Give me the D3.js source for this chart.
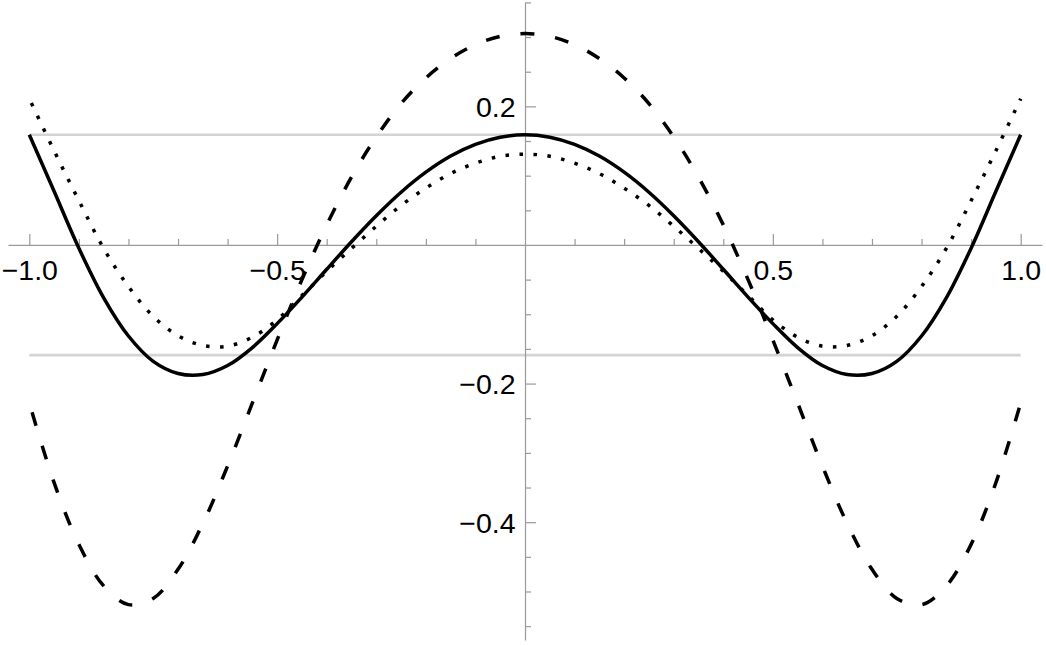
<!DOCTYPE html>
<html>
<head>
<meta charset="utf-8">
<script src="https://cdn.jsdelivr.net/npm/d3@7"></script>
<style>
  html, body { margin: 0; padding: 0; background: #fff; }
  svg { display: block; }
</style>
</head>
<body>
<svg id="chart" width="1046" height="645"></svg>
<script>
// ---- data ----
const xValues = [-1.00,-0.95,-0.90,-0.85,-0.80,-0.75,-0.70,-0.65,-0.60,-0.55,-0.50,-0.45,-0.40,-0.35,-0.30,-0.25,-0.20,-0.15,-0.10,-0.05,
                  0.00, 0.05, 0.10, 0.15, 0.20, 0.25, 0.30, 0.35, 0.40, 0.45, 0.50, 0.55, 0.60, 0.65, 0.70, 0.75, 0.80, 0.85, 0.90, 0.95, 1.00];

const solidValues  = [0.159,0.0774,-0.0047,-0.0763,-0.1314,-0.168,-0.1855,-0.187,-0.174,-0.148,-0.1135,-0.0752,-0.0351,0.0047,0.0422,0.0761,0.1050,0.1283,0.1452,0.1555,
                      0.159,
                      0.1555,0.1452,0.1283,0.1050,0.0761,0.0422,0.0047,-0.0351,-0.0752,-0.1135,-0.148,-0.174,-0.187,-0.1855,-0.168,-0.1314,-0.0763,-0.0047,0.0774,0.159];

const dashedValues = [-0.228,-0.343,-0.432,-0.492,-0.519,-0.510,-0.468,-0.402,-0.319,-0.228,-0.137,-0.050,0.029,0.098,0.156,0.204,0.241,0.269,0.289,0.301,
                      0.305,
                      0.301,0.289,0.269,0.241,0.204,0.156,0.098,0.029,-0.050,-0.137,-0.228,-0.319,-0.402,-0.468,-0.510,-0.519,-0.492,-0.432,-0.343,-0.228];

const dottedValues = [0.211,0.136,0.064,-0.005,-0.060,-0.103,-0.131,-0.145,-0.146,-0.133,-0.108,-0.073,-0.038,-0.005,0.027,0.057,0.082,0.103,0.118,0.128,
                      0.131,
                      0.128,0.118,0.103,0.082,0.057,0.027,-0.005,-0.038,-0.073,-0.108,-0.133,-0.146,-0.145,-0.131,-0.103,-0.060,-0.005,0.064,0.136,0.211];

const boundValues = [0.159, -0.159];

const xMajorTicks = [-1.0, -0.5, 0.5, 1.0];
const xTickLabels = ["\u22121.0", "\u22120.5", "0.5", "1.0"];
const yMajorTicks = [-0.4, -0.2, 0.2];
const yTickLabels = ["\u22120.4", "\u22120.2", "0.2"];

// ---- layout ----
const svg = d3.select("#chart");
const x = d3.scaleLinear().domain([-1.043, 1.043]).range([8, 1042]);
const y = d3.scaleLinear().domain([-0.57, 0.35]).range([640, 2.4]);

const axisColor = "#9a9a9a";
const fontSize = 28.5;

// reference bands
svg.append("g").selectAll("line").data(boundValues).join("line")
  .attr("x1", x(-1)).attr("x2", x(1))
  .attr("y1", d => y(d)).attr("y2", d => y(d))
  .attr("stroke", "#d4d4d4").attr("stroke-width", 2.6);

// minor ticks
const xMinor = d3.range(-10, 11).map(i => i / 10)
  .filter(v => Math.abs(v) > 1e-9 && !xMajorTicks.some(m => Math.abs(m - v) < 1e-9));
const yMinor = d3.range(-11, 8).map(i => i / 20)
  .filter(v => Math.abs(v) > 1e-9 && !yMajorTicks.some(m => Math.abs(m - v) < 1e-9));

function styleAxis(g) {
  g.selectAll("path.domain").attr("stroke", axisColor).attr("stroke-width", 1.2);
  g.selectAll(".tick line").attr("stroke", axisColor).attr("stroke-width", 1.2);
  g.selectAll(".tick text").attr("fill", "#000").attr("font-size", fontSize)
    .attr("font-family", "'Liberation Sans', Arial, sans-serif");
}

// x axis
const gx = svg.append("g").attr("transform", `translate(0,${y(0)})`);
gx.append("g").call(d3.axisBottom(x).tickValues(xMinor).tickSizeInner(-6).tickSizeOuter(0).tickFormat(""))
  .call(g => g.select(".domain").remove()).call(styleAxis);
gx.append("g").call(d3.axisBottom(x).tickValues(xMajorTicks).tickSizeInner(-11).tickSizeOuter(0).tickPadding(15)
    .tickFormat((d, i) => xTickLabels[i]))
  .call(styleAxis);

// y axis
const gy = svg.append("g").attr("transform", `translate(${x(0)},0)`);
gy.append("g").call(d3.axisLeft(y).tickValues(yMinor).tickSizeInner(-6).tickSizeOuter(0).tickFormat(""))
  .call(g => g.select(".domain").remove()).call(styleAxis);
gy.append("g").call(d3.axisLeft(y).tickValues(yMajorTicks).tickSizeInner(-11).tickSizeOuter(0).tickPadding(9.5)
    .tickFormat((d, i) => yTickLabels[i]))
  .call(styleAxis);
gy.selectAll(".tick text").attr("dy", "0.36em");

// curves
const line = d3.line().x((d, i) => x(xValues[i])).y(d => y(d)).curve(d3.curveCatmullRom.alpha(0.5));

// dash pattern: on, off, and where along one period the centre (x = 0) should fall
const series = [
  { values: dashedValues, on: 14,  off: 21,   centre: 24.5 },
  { values: dottedValues, on: 3.5, off: 10.5, centre: 1.75 },
  { values: solidValues,  on: null }
];
svg.append("g").selectAll("path").data(series).join("path")
  .attr("d", d => line(d.values))
  .attr("fill", "none")
  .attr("stroke", "#000")
  .attr("stroke-width", 3.5)
  .attr("stroke-linecap", "butt")
  .each(function (d) {
    if (d.on == null) return;
    const period = d.on + d.off;
    const half = this.getTotalLength() / 2;
    const offset = ((d.centre - half) % period + period) % period;
    d3.select(this).attr("stroke-dasharray", `${d.on} ${d.off}`).attr("stroke-dashoffset", -offset);
  });
</script>
</body>
</html>
